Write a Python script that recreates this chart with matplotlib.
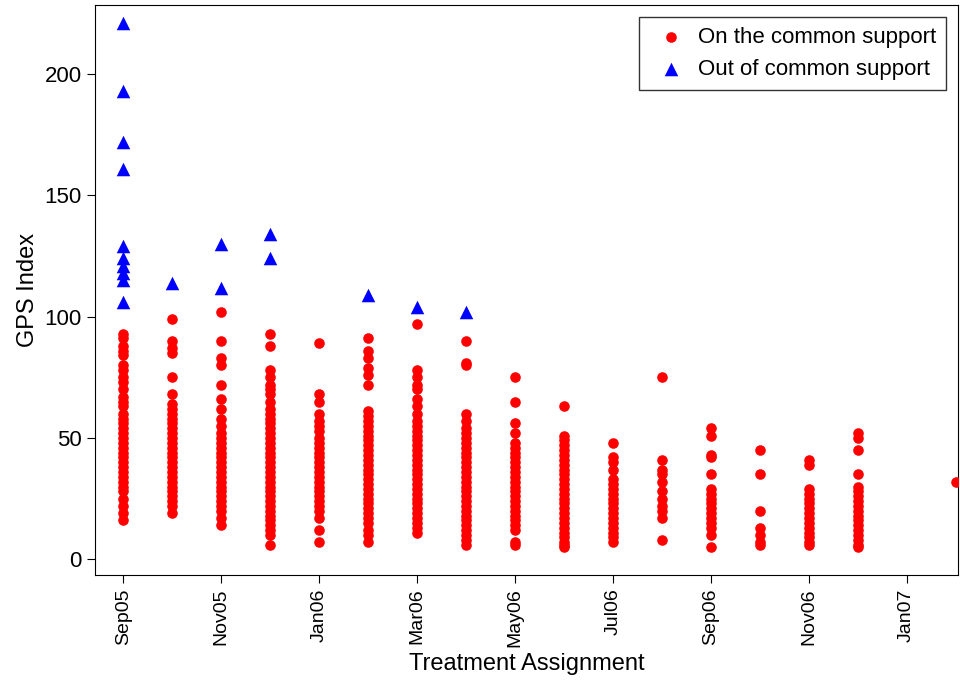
import matplotlib
matplotlib.use("Agg")
import matplotlib.pyplot as plt
plt.rcParams['font.family'] = ['Liberation Sans', 'DejaVu Sans']

months = ["Sep05","Oct05","Nov05","Dec05","Jan06","Feb06","Mar06","Apr06","May06",
          "Jun06","Jul06","Aug06","Sep06","Oct06","Nov06","Dec06","Jan07","Feb07"]
tick_labels = ["Sep05","Nov05","Jan06","Mar06","May06","Jul06","Sep06","Nov06","Jan07"]

red = {
 "Sep05": [93,91,88,86,84,80,78,75,73,70,67,65,63,60,58,56,54,52,50,48,46,44,42,40,38,36,34,32,30,28,25,22,19,16],
 "Oct05": [99,90,87,85,75,68,64,62,60,58,56,54,52,50,48,46,44,42,40,38,36,34,32,30,28,26,24,22,19],
 "Nov05": [102,90,83,80,72,66,62,58,55,52,50,48,46,44,42,40,38,36,34,32,30,28,26,24,22,20,17,14],
 "Dec05": [93,88,78,75,72,70,68,65,62,60,58,56,54,52,50,48,46,44,42,40,38,36,34,32,30,28,26,24,22,20,18,16,14,12,10,6],
 "Jan06": [89,68,65,60,57,55,53,50,48,46,44,42,40,38,36,34,32,30,28,26,24,22,20,17,12,7],
 "Feb06": [91,86,83,79,76,72,61,59,57,55,53,51,49,47,45,43,41,39,37,35,33,31,29,27,25,23,21,19,17,15,12,10,7],
 "Mar06": [97,78,75,72,70,66,63,60,57,55,53,51,49,47,45,43,41,39,37,35,33,31,29,27,25,23,21,19,17,15,13,11],
 "Apr06": [90,81,80,60,57,54,52,50,48,46,44,42,40,38,36,34,32,30,28,26,24,22,20,18,16,14,12,10,8,6],
 "May06": [75,65,56,52,48,46,44,42,40,38,36,34,32,30,28,26,24,22,20,18,16,14,12,7,6],
 "Jun06": [63,51,49,47,45,43,41,39,37,35,33,31,29,27,25,23,21,19,17,15,13,11,9,7,6,5],
 "Jul06": [48,42,40,37,33,31,29,27,25,23,21,19,17,15,13,11,9,7],
 "Aug06": [75,41,37,35,32,28,25,22,20,17,8],
 "Sep06": [54,51,43,42,35,29,27,25,23,21,19,17,15,13,10,5],
 "Oct06": [45,35,20,13,10,7,6],
 "Nov06": [41,39,29,27,25,23,21,19,17,15,13,11,9,7,6],
 "Dec06": [52,50,45,35,30,28,26,24,22,20,18,16,14,12,10,8,6,5],
 "Feb07": [32],
}
blue = {
 "Sep05": [221,193,172,161,129,124,121,118,115,106],
 "Oct05": [114],
 "Nov05": [130,112],
 "Dec05": [134,124],
 "Feb06": [109],
 "Mar06": [104],
 "Apr06": [102],
}

fig = plt.figure(figsize=(9.6, 6.89), dpi=100)
ax = fig.add_axes([0.099, 0.165, 0.899, 0.828])

rx, ry = [], []
for m, vals in red.items():
    rx += [months.index(m)] * len(vals); ry += vals
bx, by = [], []
for m, vals in blue.items():
    bx += [months.index(m)] * len(vals); by += vals

ax.scatter(rx, ry, s=58, c="#ff0000", marker="o", linewidths=0, label="On the common support", zorder=3)
ax.scatter(bx, by, s=95, c="#0000ff", marker="^", linewidths=0, label="Out of common support", zorder=3)

ax.set_xlim(-0.58, 17.05)
ax.set_ylim(-6.6, 228.5)
ax.set_xticks([months.index(t) for t in tick_labels])
ax.set_xticklabels(tick_labels, rotation=90, fontsize=14)
ax.set_yticks([0, 50, 100, 150, 200])
ax.tick_params(axis="y", labelsize=16, length=6)
ax.tick_params(axis="x", length=6)
ax.set_xlabel("Treatment Assignment", fontsize=17)
ax.set_ylabel("GPS Index", fontsize=17)

leg = ax.legend(loc="upper right", fontsize=16, frameon=True, fancybox=False,
                handletextpad=0.2, borderpad=0.45, markerscale=1.0, borderaxespad=0.55)
leg.get_frame().set_edgecolor("black")
leg.get_frame().set_linewidth(1.0)

fig.savefig("out.png", dpi=100)
